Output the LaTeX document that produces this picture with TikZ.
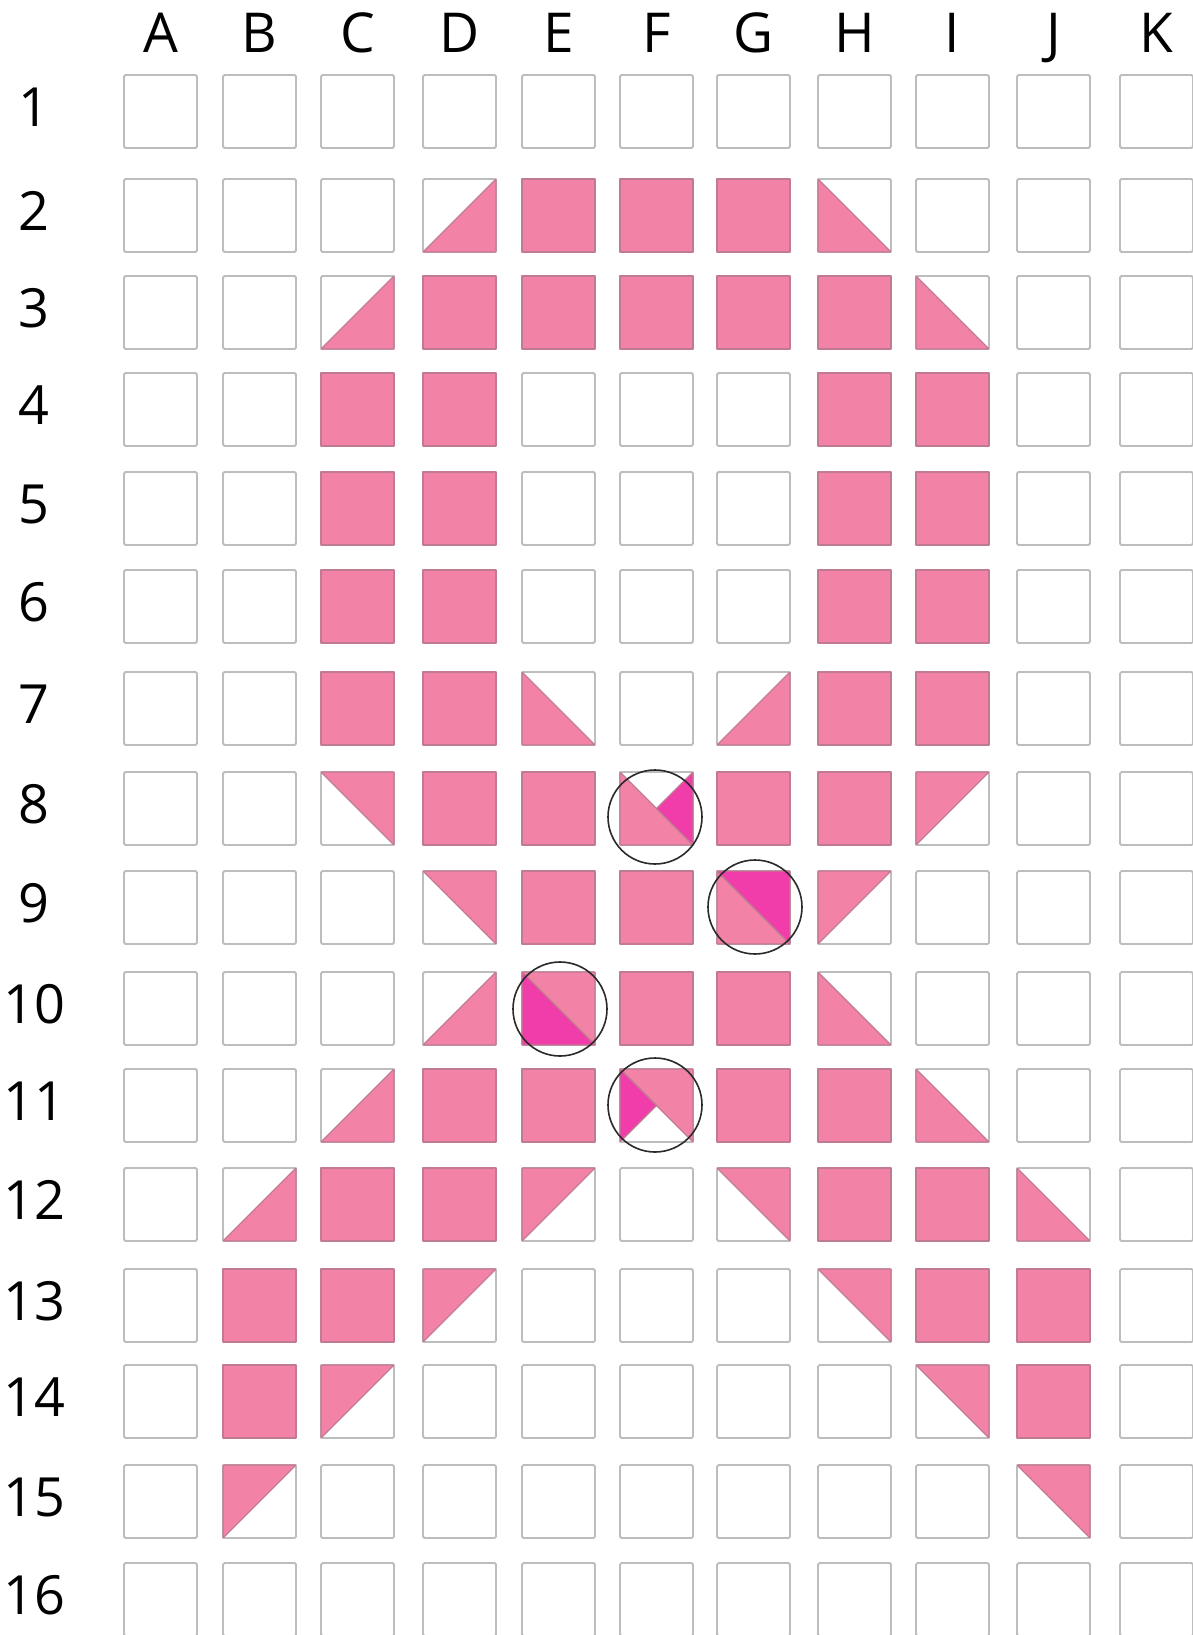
\documentclass[tikz,border=0pt]{standalone}
\usepackage{fontspec}
\setmainfont{Open Sans}
\definecolor{boxgray}{HTML}{BDBDBD}
\definecolor{pinkfill}{HTML}{F283A7}
\definecolor{pinkedge}{HTML}{C07A92}
\definecolor{magfill}{HTML}{F03DAA}
\definecolor{ringcol}{HTML}{2A2A2A}
\begin{document}
\begin{tikzpicture}[x=1pt,y=-1pt,
  emptybox/.style={draw=boxgray,line width=1.8pt,rounded corners=1.5pt,fill=white},
  pinkpart/.style={fill=pinkfill,draw=pinkedge,line width=1.2pt,line join=round},
  magpart/.style={fill=magfill,draw=pinkedge,line width=1.2pt,line join=round},
  whitepart/.style={fill=white},
  collabel/.style={anchor=base,inner sep=0pt,font=\fontsize{55}{60}\selectfont},
  rowlabel/.style={anchor=base,inner sep=0pt,font=\fontsize{54}{60}\selectfont},
  ring/.style={circle,draw=ringcol,line width=1.6pt,minimum size=94pt,inner sep=0pt}
]
\useasboundingbox (0,0) rectangle (1193,1635);
\fill[white] (0,0) rectangle (1193,1635);
\def\colx{{124,223,321,423,522,620,717,818,916,1017,1120}}
\def\rowy{{75,179,276,373,472,570,672,772,871,972,1069,1168,1269,1365,1465,1563}}
\def\cw{73}
% grid of empty boxes
\foreach \i in {0,...,10}{
  \foreach \j in {0,...,15}{
    \pgfmathsetmacro\xl{\colx[\i]}
    \pgfmathsetmacro\yt{\rowy[\j]}
    \draw[emptybox] (\xl,\yt) rectangle (\xl+\cw,\yt+\cw);
  }
}
% cell shapes
\pgfkeys{
  /cellshape/F/.code={\draw[pinkpart] (tl) -- (tr) -- (br) -- (bl) -- cycle;},
  /cellshape/a/.code={\draw[pinkpart] (bl) -- (br) -- (tr) -- cycle;},
  /cellshape/b/.code={\draw[pinkpart] (tl) -- (bl) -- (br) -- cycle;},
  /cellshape/c/.code={\draw[pinkpart] (tl) -- (tr) -- (br) -- cycle;},
  /cellshape/d/.code={\draw[pinkpart] (tl) -- (tr) -- (bl) -- cycle;},
  /cellshape/X/.code={\draw[pinkpart] (tl) -- (bl) -- (br) -- cycle;
                      \draw[magpart] (mm) -- (tr) -- (br) -- cycle;},
  /cellshape/Y/.code={\draw[pinkpart] (tl) -- (bl) -- (br) -- cycle;
                      \draw[magpart] (tl) -- (tr) -- (br) -- cycle;},
  /cellshape/Z/.code={\draw[pinkpart] (tl) -- (tr) -- (br) -- cycle;
                      \draw[magpart] (tl) -- (bl) -- (br) -- cycle;},
  /cellshape/W/.code={\draw[pinkpart] (tl) -- (tr) -- (br) -- cycle;
                      \draw[magpart] (tl) -- (mm) -- (bl) -- cycle;},
}
\foreach \c/\r/\t in {
  4/2/a,5/2/F,6/2/F,7/2/F,8/2/b,
  3/3/a,4/3/F,5/3/F,6/3/F,7/3/F,8/3/F,9/3/b,
  3/4/F,4/4/F,8/4/F,9/4/F,
  3/5/F,4/5/F,8/5/F,9/5/F,
  3/6/F,4/6/F,8/6/F,9/6/F,
  3/7/F,4/7/F,5/7/b,7/7/a,8/7/F,9/7/F,
  3/8/c,4/8/F,5/8/F,6/8/X,7/8/F,8/8/F,9/8/d,
  4/9/c,5/9/F,6/9/F,7/9/Y,8/9/d,
  4/10/a,5/10/Z,6/10/F,7/10/F,8/10/b,
  3/11/a,4/11/F,5/11/F,6/11/W,7/11/F,8/11/F,9/11/b,
  2/12/a,3/12/F,4/12/F,5/12/d,7/12/c,8/12/F,9/12/F,10/12/b,
  2/13/F,3/13/F,4/13/d,8/13/c,9/13/F,10/13/F,
  2/14/F,3/14/d,9/14/c,10/14/F,
  2/15/d,10/15/c}{
  \pgfmathsetmacro\xl{\colx[\c-1]}
  \pgfmathsetmacro\yt{\rowy[\r-1]}
  \coordinate (tl) at (\xl,\yt);
  \coordinate (tr) at (\xl+\cw,\yt);
  \coordinate (bl) at (\xl,\yt+\cw);
  \coordinate (br) at (\xl+\cw,\yt+\cw);
  \coordinate (mm) at (\xl+0.5*\cw,\yt+0.5*\cw);
  \pgfkeys{/cellshape/\t}
}
% column labels
\foreach \l [count=\k from 0] in {A,B,C,D,E,F,G,H,I,J,K}{
  \pgfmathsetmacro\xl{\colx[\k]}
  \node[collabel] (col\l) at (\xl+36.5,53) {\l};
}
% row labels
\foreach \r in {1,...,16}{
  \pgfmathsetmacro\yt{\rowy[\r-1]}
  \node[rowlabel] (row\r) at (34,\yt+36.5+15) {\r};
}
% rings
\node[ring] (ringF8) at (655,817) {};
\node[ring] (ringG9) at (755,907) {};
\node[ring] (ringE10) at (560,1009) {};
\node[ring] (ringF11) at (655,1105) {};
\end{tikzpicture}
\end{document}
